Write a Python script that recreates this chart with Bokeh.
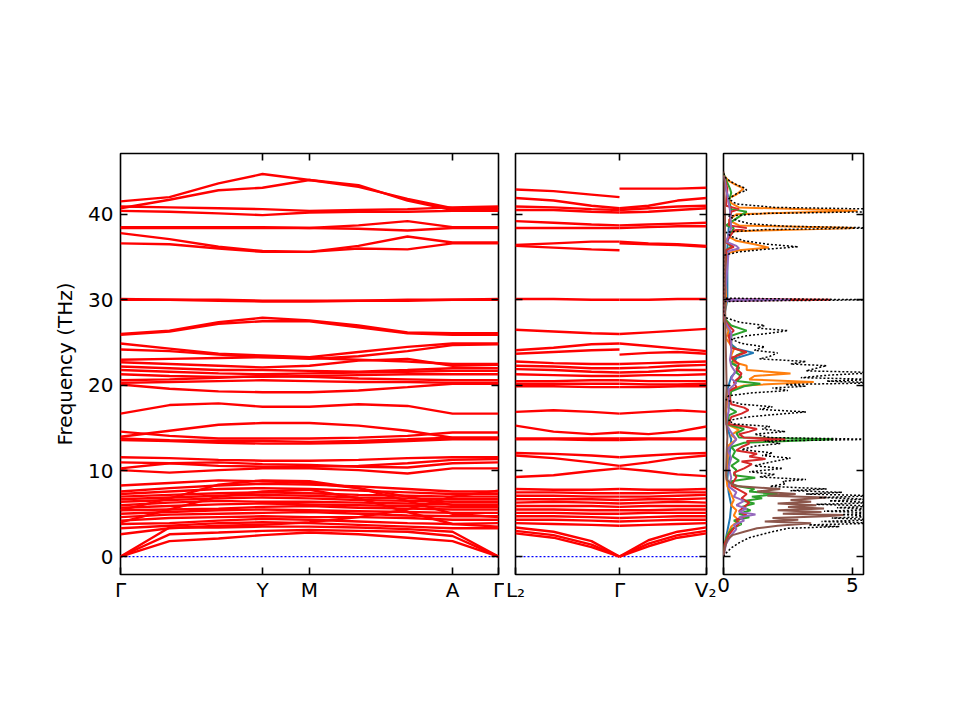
from bokeh.plotting import figure
from bokeh.layouts import row
from bokeh.models import FixedTicker, LinearAxis, Range1d
from bokeh.embed import file_html
from bokeh.resources import INLINE

FONT = "DejaVu Sans"
Y_MIN, Y_MAX = -2.1, 47.1
Y_TICKS = [0, 10, 20, 30, 40]
Y_LABEL = "Frequency (THz)"

# ---------------- panel 1 : Γ - Y - M - A - Γ ----------------
K1_POS = [0, 142, 189, 332, 378]
K1_LABELS = ["Γ", "Y", "M", "A", "Γ"]
K1_SAMPLES = [0, 49, 98, 142, 189, 238, 287, 332, 378]
BANDS1 = [
    [41.5, 42.0, 43.6, 44.7, 44.0, 43.2, 41.8, 40.7, 40.7],
    [40.7, 41.7, 42.8, 43.1, 44.0, 43.4, 41.6, 40.5, 40.5],
    [40.9, 40.8, 40.7, 40.6, 40.4, 40.5, 40.6, 40.8, 40.9],
    [40.4, 40.3, 40.1, 39.9, 40.2, 40.3, 40.3, 40.4, 40.4],
    [38.5, 38.5, 38.5, 38.5, 38.4, 38.7, 39.2, 38.5, 38.5],
    [38.4, 38.4, 38.4, 38.4, 38.4, 38.3, 38.1, 38.4, 38.4],
    [37.8, 37.1, 36.2, 35.7, 35.6, 36.3, 37.4, 36.7, 36.7],
    [36.6, 36.5, 36.0, 35.6, 35.6, 36.0, 35.9, 36.6, 36.6],
    [30.1, 30.0, 30.0, 29.9, 29.9, 29.9, 30.0, 30.0, 30.1],
    [30.0, 30.0, 29.9, 29.8, 29.8, 29.9, 29.9, 30.0, 30.0],
    [26.0, 26.4, 27.4, 27.9, 27.6, 27.0, 26.2, 26.1, 26.1],
    [25.9, 26.3, 27.2, 27.5, 27.5, 26.8, 26.1, 25.9, 25.9],
    [24.9, 24.3, 23.7, 23.5, 23.3, 23.9, 24.5, 24.9, 24.9],
    [24.2, 24.0, 23.6, 23.3, 23.1, 23.4, 24.0, 24.7, 24.8],
    [23.0, 23.1, 23.2, 23.3, 23.2, 23.0, 22.8, 22.5, 22.5],
    [22.7, 22.5, 22.3, 22.1, 22.3, 22.9, 23.1, 22.3, 22.4],
    [22.2, 22.0, 21.8, 21.8, 21.7, 21.6, 21.8, 22.0, 22.0],
    [21.8, 21.6, 21.4, 21.3, 21.4, 21.5, 21.6, 21.7, 21.7],
    [21.3, 21.1, 21.0, 21.0, 21.1, 21.2, 21.3, 21.3, 21.3],
    [20.6, 20.7, 20.9, 21.1, 21.0, 20.8, 20.7, 20.6, 20.6],
    [20.3, 20.4, 20.5, 20.6, 20.5, 20.4, 20.4, 20.3, 20.3],
    [20.1, 19.6, 19.3, 19.2, 19.2, 19.4, 19.8, 20.2, 20.2],
    [16.7, 17.7, 17.9, 17.5, 17.5, 17.8, 17.6, 16.7, 16.7],
    [14.6, 14.1, 13.8, 13.8, 13.8, 13.9, 14.1, 14.5, 14.5],
    [14.0, 14.7, 15.4, 15.6, 15.6, 15.3, 14.7, 13.9, 13.9],
    [13.8, 13.6, 13.5, 13.5, 13.4, 13.5, 13.7, 13.9, 13.9],
    [13.6, 13.5, 13.3, 13.2, 13.2, 13.3, 13.5, 13.7, 13.7],
    [11.6, 11.5, 11.3, 11.2, 11.2, 11.3, 11.5, 11.6, 11.6],
    [11.0, 10.9, 10.6, 10.5, 10.5, 10.6, 10.9, 11.3, 11.4],
    [10.3, 10.9, 11.0, 10.8, 10.7, 10.5, 10.4, 10.9, 11.0],
    [10.1, 9.8, 10.1, 10.3, 10.3, 10.1, 9.7, 10.3, 10.3],
    [8.3, 8.6, 8.9, 8.8, 8.6, 8.0, 7.0, 6.0, 5.9],
    [7.6, 8.0, 8.3, 8.5, 8.4, 8.2, 7.9, 7.6, 7.6],
    [7.3, 7.6, 7.9, 8.0, 7.9, 7.7, 7.5, 7.3, 7.3],
    [7.0, 7.2, 7.4, 7.5, 7.4, 7.2, 7.1, 7.0, 7.0],
    [6.7, 6.9, 7.1, 7.2, 7.1, 6.9, 6.8, 6.7, 6.7],
    [6.4, 6.6, 6.8, 6.9, 6.8, 6.6, 6.5, 6.4, 6.4],
    [6.0, 6.3, 6.5, 6.4, 6.4, 6.3, 6.2, 6.1, 6.1],
    [5.7, 5.9, 6.1, 6.2, 6.1, 6.0, 5.9, 5.8, 5.8],
    [5.4, 5.5, 5.6, 5.8, 5.9, 5.7, 5.6, 5.5, 5.5],
    [5.0, 5.2, 5.4, 5.5, 5.4, 5.3, 5.2, 5.1, 5.1],
    [4.6, 4.9, 5.0, 5.1, 5.2, 5.0, 4.8, 4.7, 4.7],
    [4.2, 4.5, 4.6, 4.7, 4.6, 4.6, 4.5, 4.3, 4.3],
    [3.8, 3.9, 4.2, 4.4, 4.3, 4.1, 3.9, 3.8, 3.9],
    [3.3, 3.6, 3.9, 4.0, 3.9, 3.7, 3.5, 3.3, 3.3],
    [5.4, 6.8, 8.4, 8.9, 8.8, 8.0, 6.5, 5.0, 4.6],
    [4.0, 5.5, 7.0, 7.6, 7.8, 6.8, 5.2, 3.8, 3.5],
    [2.6, 3.3, 3.6, 3.7, 4.0, 4.6, 5.5, 7.0, 7.7],
    [0.0, 1.8, 2.1, 2.5, 2.8, 2.6, 2.2, 1.8, 0.0],
    [0.0, 2.6, 2.8, 3.0, 3.1, 3.0, 2.9, 2.4, 0.0],
    [0.0, 3.4, 3.4, 3.5, 3.5, 3.4, 3.2, 2.9, 0.0],
]

# ---------------- panel 2 : L2 - Γ | Γ - V2 ----------------
K2_POS = [0, 104, 191]
K2_LABELS = ["L₂", "Γ", "V₂"]
K2_LEFT = [0, 38, 76, 104]
K2_RIGHT = [104, 133, 162, 191]
BANDS2 = [
    [42.9, 42.7, 42.3, 42.0, 43.0, 43.0, 43.0, 43.1],
    [41.9, 41.6, 41.0, 40.7, 40.7, 41.0, 41.6, 41.9],
    [40.9, 40.8, 40.6, 40.5, 40.5, 40.7, 40.9, 41.0],
    [40.5, 40.5, 40.3, 40.2, 40.2, 40.3, 40.5, 40.7],
    [39.2, 39.0, 38.8, 38.7, 38.7, 38.8, 38.9, 39.0],
    [38.4, 38.4, 38.4, 38.4, 38.4, 38.5, 38.6, 38.6],
    [36.4, 36.6, 36.8, 36.8, 36.8, 36.6, 36.5, 36.3],
    [36.3, 36.1, 35.9, 35.8, 36.6, 36.5, 36.4, 36.2],
    [30.1, 30.1, 30.0, 30.0, 30.0, 30.0, 30.1, 30.1],
    [26.5, 26.3, 26.1, 26.0, 26.0, 26.2, 26.4, 26.6],
    [24.1, 24.4, 24.8, 24.9, 24.9, 24.6, 24.3, 24.0],
    [23.7, 23.9, 24.1, 24.2, 23.6, 23.8, 23.9, 23.7],
    [22.8, 22.6, 22.5, 22.5, 22.5, 22.6, 22.7, 22.8],
    [22.3, 22.2, 22.0, 22.0, 22.0, 22.1, 22.3, 22.4],
    [21.9, 21.8, 21.6, 21.5, 21.5, 21.6, 21.8, 21.8],
    [21.3, 21.2, 21.1, 21.1, 21.1, 21.2, 21.2, 21.3],
    [20.5, 20.5, 20.6, 20.6, 20.6, 20.5, 20.5, 20.5],
    [20.2, 20.2, 20.2, 20.2, 20.2, 20.1, 20.1, 20.2],
    [19.9, 19.9, 19.8, 19.8, 19.8, 19.8, 19.9, 19.9],
    [16.9, 17.1, 16.9, 16.7, 16.7, 16.9, 17.1, 16.9],
    [15.3, 14.6, 14.3, 14.5, 14.5, 14.3, 14.6, 15.2],
    [13.8, 13.8, 13.8, 13.8, 13.8, 13.8, 13.8, 13.8],
    [13.7, 13.7, 13.6, 13.6, 13.6, 13.7, 13.7, 13.7],
    [12.1, 12.0, 11.8, 11.6, 11.6, 11.8, 12.0, 12.1],
    [11.8, 11.5, 11.0, 10.6, 10.6, 11.0, 11.5, 11.8],
    [9.3, 9.5, 10.0, 10.3, 10.3, 10.0, 9.6, 9.4],
    [7.9, 7.8, 7.8, 7.9, 7.9, 7.8, 7.8, 7.9],
    [7.5, 7.5, 7.4, 7.4, 7.4, 7.4, 7.5, 7.5],
    [7.1, 7.1, 7.0, 7.0, 7.0, 7.0, 7.1, 7.2],
    [6.7, 6.7, 6.7, 6.6, 6.6, 6.7, 6.7, 6.8],
    [6.3, 6.4, 6.3, 6.2, 6.2, 6.3, 6.4, 6.3],
    [5.9, 5.9, 5.9, 5.8, 5.8, 5.9, 5.9, 5.9],
    [5.5, 5.5, 5.4, 5.4, 5.4, 5.4, 5.5, 5.5],
    [5.1, 5.1, 5.0, 5.0, 5.0, 5.1, 5.1, 5.1],
    [4.7, 4.7, 4.6, 4.5, 4.5, 4.6, 4.7, 4.7],
    [4.3, 4.3, 4.2, 4.1, 4.1, 4.2, 4.3, 4.3],
    [3.9, 3.8, 3.7, 3.6, 3.6, 3.7, 3.8, 3.9],
    [3.4, 2.9, 1.8, 0.0, 0.0, 1.9, 2.9, 3.4],
    [3.0, 2.5, 1.4, 0.0, 0.0, 1.5, 2.5, 3.0],
    [2.7, 2.2, 1.1, 0.0, 0.0, 1.2, 2.2, 2.7],
]

# ---------------- panel 3 : DOS ----------------
DOS_XMAX = 5.43
DOS_TICKS = [0, 5]
TOTAL_F = [0.0, 0.4, 1.0, 1.6, 2.2, 2.9, 3.3, 3.5, 3.7, 3.9, 4.1, 4.3, 4.5, 4.7, 4.9,
           5.1, 5.3, 5.5, 5.7, 5.9, 6.1, 6.3, 6.5, 6.7, 6.9, 7.1, 7.3, 7.5, 7.7, 7.9,
           8.2, 8.5, 8.8, 9.0, 9.3, 9.6, 9.9, 10.3, 10.6, 10.9, 11.2, 11.5, 11.8,
           12.1, 12.5, 12.9, 13.2, 13.5, 13.7, 13.9, 14.3, 14.6, 14.9, 15.2, 15.5,
           15.9, 16.3, 16.6, 16.9, 17.2, 17.5, 17.8, 18.3, 18.8, 19.1, 19.4, 19.7,
           19.9, 20.1, 20.3, 20.5, 20.7, 20.9, 21.2, 21.5, 21.7, 22.0, 22.3, 22.5,
           22.8, 23.1, 23.4, 23.8, 24.1, 24.5, 24.9, 25.4, 25.8, 26.1, 26.4, 26.7,
           27.0, 27.4, 27.9, 28.4, 29.8, 29.9, 30.0, 30.1, 30.2, 35.2, 35.6, 35.9,
           36.2, 36.5, 36.9, 37.4, 37.9, 38.2, 38.4, 38.6, 38.9, 39.3, 39.8, 40.1,
           40.3, 40.6, 40.8, 41.2, 41.8, 42.4, 42.8, 43.1, 43.6, 44.2, 44.8]
TOTAL_V = [0.0, 0.1, 0.3, 0.6, 1.0, 1.9, 2.5, 4.5, 3.3, 6.0, 3.8, 6.0, 4.2, 6.0, 4.6,
           6.0, 3.9, 6.0, 4.4, 6.0, 3.6, 6.0, 4.1, 5.6, 3.7, 6.0, 3.2, 4.6, 2.6, 4.0,
           1.8, 2.4, 2.3, 3.2, 1.4, 2.0, 1.0, 2.3, 1.2, 1.6, 2.1, 2.6, 1.5,
           1.9, 0.7, 1.2, 2.2, 1.6, 6.0, 1.8, 1.2, 2.4, 1.5, 1.8, 0.4,
           0.2, 0.9, 2.0, 3.2, 1.4, 1.9, 0.7, 0.1, 0.2, 1.0, 2.5, 1.9,
           3.2, 2.4, 6.0, 4.0, 6.0, 3.0, 4.1, 6.0, 3.2, 3.6, 4.0, 2.6,
           3.2, 1.4, 1.8, 2.1, 1.2, 1.6, 0.7, 0.3, 0.9, 1.8, 2.5, 1.3,
           1.6, 0.6, 0.1, 0.0, 0.0, 2.0, 6.0, 2.5, 0.0, 0.0, 0.6, 1.6,
           2.9, 1.7, 0.8, 0.3, 0.1, 1.5, 6.0, 2.4, 1.0, 0.5, 0.2, 1.6,
           6.0, 6.0, 2.0, 0.5, 0.2, 0.5, 0.9, 0.8, 0.4, 0.1, 0.0]

PDOS_BLUE_F = [0, 1.5, 3.0, 4.5, 6.0, 7.5, 9.0, 11, 13.7, 15, 17, 19.5, 21.0, 22.0, 22.6,
               23.2, 23.8, 24.3, 24.8, 26.3, 28, 30.0, 36.0, 38.4, 40.5, 43.0, 44.5]
PDOS_BLUE_V = [0, 0.05, 0.15, 0.25, 0.3, 0.2, 0.15, 0.2, 0.3, 0.15, 0.1, 0.15, 0.3, 0.6, 0.4,
               0.5, 1.17, 0.5, 0.3, 0.2, 0.02, 0.15, 0.15, 0.2, 0.3, 0.1, 0.0]
PDOS_ORANGE_F = [0, 1.5, 2.5, 3.5, 4.2, 4.8, 5.4, 6.0, 6.6, 7.3, 8.2, 9.5, 11, 13.0, 13.7,
                 14.2, 14.8, 15.5, 17.0, 19.5, 20.0, 20.4, 20.7, 21.1, 21.4, 21.8, 22.3,
                 22.7, 23.5, 24.2, 25.5, 26.4, 27.5, 30.0, 35.4, 35.8, 36.1, 36.5, 36.9,
                 37.4, 38.0, 38.4, 38.7, 39.3, 40.0, 40.4, 40.8, 41.3, 41.9, 42.3, 42.8,
                 43.0, 43.4, 43.9, 44.6]
PDOS_ORANGE_V = [0, 0.05, 0.15, 0.3, 0.6, 0.4, 0.5, 0.3, 0.4, 0.3, 0.15, 0.1, 0.15, 0.2, 0.5,
                 0.3, 0.6, 0.1, 0.1, 0.2, 0.8, 3.5, 1.0, 1.2, 2.6, 0.9, 0.9,
                 0.4, 0.3, 0.4, 0.1, 0.2, 0.02, 0.1, 0.1, 0.6, 1.76, 1.2, 0.5,
                 0.2, 0.4, 5.1, 0.6, 0.2, 0.5, 5.2, 0.6, 0.3, 0.2, 0.5, 0.7,
                 0.78, 0.5, 0.2, 0.0]
PDOS_GREEN_F = [0, 1.5, 2.5, 3.3, 3.8, 4.2, 4.6, 5.0, 5.4, 5.8, 6.2, 6.5, 6.8, 7.0, 7.3,
                7.6, 7.9, 8.3, 8.8, 9.2, 9.5, 10.1, 10.6, 11.2, 11.7, 12.3, 12.8, 13.3,
                13.7, 13.9, 14.4, 14.9, 15.4, 16.5, 16.9, 17.4, 19.3, 19.9, 20.2, 20.5,
                21.0, 21.5, 22.1, 22.6, 23.5, 23.9, 24.5, 25.8, 26.4, 27.0, 27.8, 29.9,
                30.0, 30.1, 35.8, 36.2, 36.8, 38.4, 38.7, 40.3, 40.6, 41.5, 42.5, 43.0,
                44.0, 44.8]
PDOS_GREEN_V = [0, 0.05, 0.15, 0.35, 0.7, 0.4, 1.0, 0.6, 1.05, 0.7, 1.2, 0.8, 1.5, 1.1, 2.1,
                1.0, 1.2, 0.4, 0.3, 1.23, 0.4, 0.5, 0.3, 0.6, 0.35, 0.45, 0.3, 0.8,
                4.27, 0.6, 0.5, 0.8, 0.2, 0.2, 0.5, 0.2, 0.3, 0.8, 1.43, 0.5,
                0.7, 0.5, 0.6, 0.3, 0.5, 0.8, 0.3, 0.3, 0.9, 0.3, 0.05, 0.05,
                0.35, 0.05, 0.1, 0.3, 0.1, 0.4, 0.1, 0.9, 0.3, 0.2, 0.3, 0.25,
                0.1, 0.0]
PDOS_RED_F = [0, 1.5, 2.5, 3.3, 3.8, 4.3, 4.8, 5.3, 5.8, 6.3, 6.8, 7.3, 7.8, 8.3, 8.8,
              9.3, 9.8, 10.3, 10.8, 11.1, 11.4, 11.7, 12.0, 12.4, 12.8, 13.2, 13.5, 13.7,
              13.9, 14.3, 14.6, 14.9, 15.2, 15.5, 16.3, 16.7, 17.1, 17.4, 17.8, 19.3,
              19.8, 20.4, 20.9, 21.4, 21.9, 22.5, 23.2, 23.9, 24.4, 25.8, 26.4, 27.0,
              27.8, 29.9, 30.0, 30.1, 35.8, 36.2, 36.7, 38.1, 38.4, 38.7, 40.3, 40.6,
              41.0, 43.0, 44.5]
PDOS_RED_V = [0, 0.05, 0.2, 0.4, 0.6, 0.5, 0.9, 0.6, 0.8, 1.0, 0.7, 0.9, 0.6, 0.3, 0.4,
              0.5, 0.4, 0.8, 1.1, 0.7, 1.63, 1.0, 1.3, 0.5, 0.7, 1.0, 0.9, 2.4,
              0.8, 0.6, 1.0, 1.3, 0.8, 0.2, 0.3, 0.7, 0.97, 0.8, 0.3, 0.2,
              0.5, 0.4, 0.6, 0.7, 0.5, 0.6, 0.3, 0.9, 0.3, 0.2, 0.4, 0.2,
              0.02, 0.02, 4.15, 0.02, 0.1, 0.4, 0.1, 0.4, 0.9, 0.2, 0.3, 0.6,
              0.1, 0.15, 0.02]
PDOS_PURPLE_F = [0, 1.5, 2.5, 3.2, 3.7, 4.2, 4.6, 4.9, 5.2, 5.6, 6.0, 6.5, 7.0, 7.5, 8.2,
                 9.2, 10.5, 11.5, 12.5, 13.7, 14.5, 15.5, 17.0, 19.5, 20.3, 20.8, 21.6,
                 22.3, 23.0, 24.0, 26.2, 27.5, 29.9, 30.0, 30.1, 35.7, 36.0, 36.3, 36.8,
                 38.4, 40.5, 43.0, 44.5]
PDOS_PURPLE_V = [0, 0.1, 0.3, 0.5, 0.4, 0.8, 0.6, 1.24, 0.6, 0.9, 0.5, 0.8, 0.4, 0.5, 0.2,
                 0.3, 0.2, 0.3, 0.15, 0.5, 0.3, 0.1, 0.2, 0.2, 0.5, 0.3, 0.45,
                 0.3, 0.25, 0.3, 0.3, 0.05, 0.05, 2.6, 0.05, 0.2, 0.6, 0.5, 0.1,
                 0.3, 0.25, 0.1, 0.02]
PDOS_BROWN_F = [0, 1.0, 2.0, 2.5, 2.9, 3.3, 3.6, 3.9, 4.1, 4.3, 4.5, 4.7, 4.85, 5.0, 5.2,
                5.4, 5.6, 5.8, 6.0, 6.2, 6.4, 6.6, 6.9, 7.1, 7.3, 7.6, 7.9, 8.2, 8.5,
                9.0, 10, 12, 14, 17, 20, 23, 26, 30, 36, 40, 44, 45]
PDOS_BROWN_V = [0, 0.05, 0.15, 0.35, 0.8, 1.3, 2.1, 3.4, 1.6, 2.9, 1.9, 4.0, 4.65, 2.3, 3.8,
                2.1, 3.9, 2.5, 3.6, 2.1, 3.4, 2.6, 4.0, 1.7, 2.8, 1.3, 2.2, 0.6, 0.3,
                0.12, 0.1, 0.12, 0.15, 0.08, 0.12, 0.1, 0.08, 0.06, 0.05, 0.06, 0.02, 0.0]
PDOS_COLORS = ["#1f77b4", "#ff7f0e", "#2ca02c", "#d62728", "#9467bd", "#8c564b"]

FRAME_H = 421
BORDER_TOP = 153
BORDER_BOTTOM = 130


def style_axis(ax, ticks, show_labels, overrides=None, standoff=7):
    ax.ticker = FixedTicker(ticks=ticks)
    ax.axis_line_color = None
    ax.major_tick_in = 7
    ax.major_tick_out = 0
    ax.major_tick_line_width = 1.6
    ax.major_tick_line_color = "black"
    ax.minor_tick_line_color = None
    if show_labels:
        ax.major_label_text_font = FONT
        ax.major_label_text_font_size = "20px"
        ax.major_label_text_color = "black"
        ax.major_label_standoff = standoff
        if overrides:
            ax.major_label_overrides = overrides
    else:
        ax.major_label_text_color = None
        ax.major_label_text_font_size = "0px"
        ax.major_label_standoff = 0


def make_fig(frame_w, x_rng, bl, br, xticks, top_ticks, xlabel_map=None):
    p = figure(frame_width=frame_w, frame_height=FRAME_H,
               x_range=x_rng, y_range=Range1d(Y_MIN, Y_MAX),
               output_backend="svg", toolbar_location=None,
               min_border_left=bl, min_border_right=br,
               min_border_top=BORDER_TOP, min_border_bottom=BORDER_BOTTOM)
    p.xgrid.visible = False
    p.ygrid.visible = False
    p.outline_line_color = "black"
    p.outline_line_width = 1.6
    p.background_fill_color = "white"
    p.border_fill_color = "white"
    style_axis(p.xaxis[0], xticks, True, xlabel_map, standoff=3)
    style_axis(p.yaxis[0], Y_TICKS, False)
    top = LinearAxis()
    style_axis(top, top_ticks, False)
    p.add_layout(top, "above")
    right = LinearAxis()
    style_axis(right, Y_TICKS, False)
    p.add_layout(right, "right")
    return p


# panel 1
p1 = make_fig(378, Range1d(K1_POS[0], K1_POS[-1]), 120, 6, K1_POS,
              K1_POS[1:-1], {k: l for k, l in zip(K1_POS, K1_LABELS)})
style_axis(p1.yaxis[0], Y_TICKS, True)
p1.yaxis[0].axis_label = Y_LABEL
p1.yaxis[0].axis_label_text_font = FONT
p1.yaxis[0].axis_label_text_font_size = "20px"
p1.yaxis[0].axis_label_text_font_style = "normal"
p1.yaxis[0].axis_label_text_color = "black"
p1.yaxis[0].axis_label_standoff = 8
p1.line([K1_POS[0], K1_POS[-1]], [0, 0], line_color="blue", line_dash="2 2", line_width=1.2)
p1.multi_line([K1_SAMPLES] * len(BANDS1), BANDS1, line_color="#ff0000", line_width=2.4)

# panel 2
p2 = make_fig(191, Range1d(K2_POS[0], K2_POS[-1]), 11, 10, K2_POS,
              [K2_POS[1]], {k: l for k, l in zip(K2_POS, K2_LABELS)})
p2.line([K2_POS[0], K2_POS[-1]], [0, 0], line_color="blue", line_dash="2 2", line_width=1.2)
xs2, ys2 = [], []
for b in BANDS2:
    xs2.append(K2_LEFT)
    ys2.append(b[:4])
    xs2.append(K2_RIGHT)
    ys2.append(b[4:])
p2.multi_line(xs2, ys2, line_color="#ff0000", line_width=2.4)

# panel 3
p3 = make_fig(140, Range1d(0, DOS_XMAX), 7, 60, DOS_TICKS, [5], {0: "0", 5: "5"})
pdos = [(PDOS_BLUE_V, PDOS_BLUE_F), (PDOS_ORANGE_V, PDOS_ORANGE_F),
        (PDOS_GREEN_V, PDOS_GREEN_F), (PDOS_RED_V, PDOS_RED_F),
        (PDOS_PURPLE_V, PDOS_PURPLE_F), (PDOS_BROWN_V, PDOS_BROWN_F)]
for (v, f), c in zip(pdos, PDOS_COLORS):
    p3.line(v, f, line_color=c, line_width=2)
p3.line(TOTAL_V, TOTAL_F, line_color="black", line_dash="2 2", line_width=1.5)

layout = row(p1, p2, p3, spacing=0)
open("out.html", "w").write(file_html(layout, INLINE))
